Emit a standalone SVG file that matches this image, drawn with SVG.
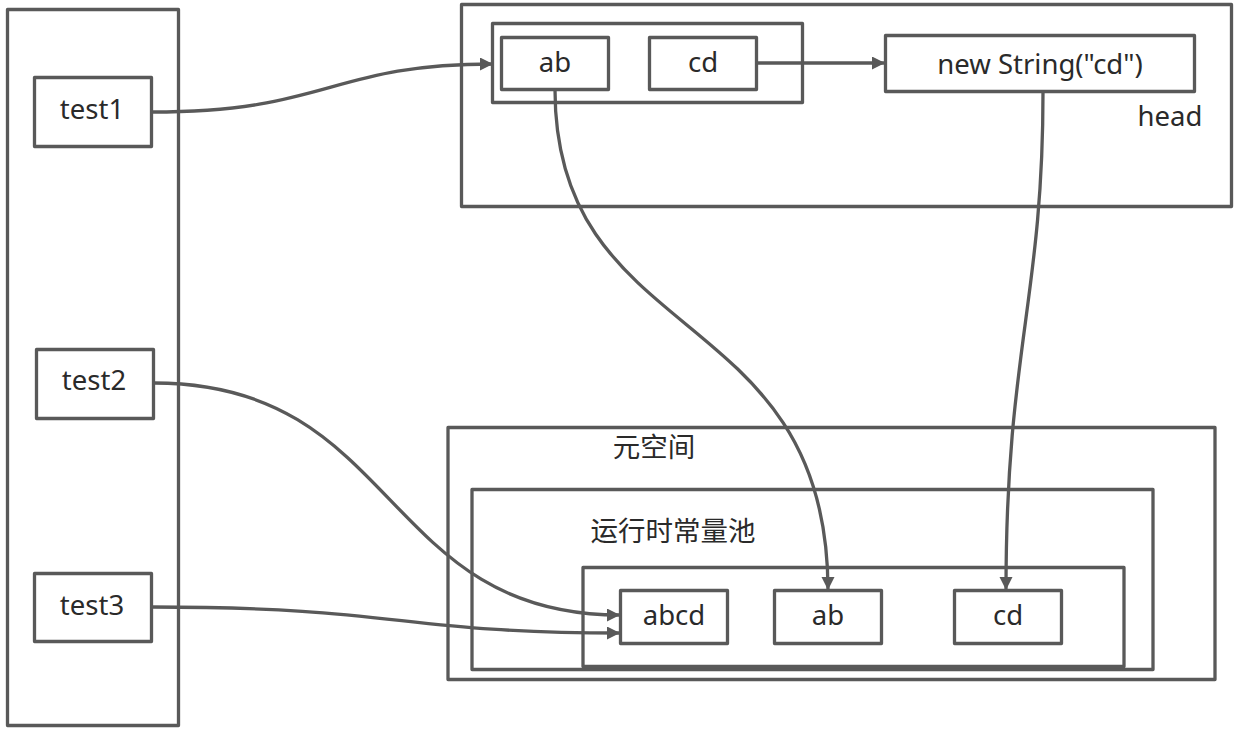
<svg xmlns="http://www.w3.org/2000/svg" width="1238" height="730" viewBox="0 0 1238 730">
<style>
.box{fill:none;stroke:#595959;stroke-width:3.3;stroke-linejoin:round}
.nb{fill:#fff;stroke:#595959;stroke-width:3.3;stroke-linejoin:round}
.t{font-family:"Noto Sans","Open Sans","Liberation Sans",sans-serif;font-size:27.5px;fill:#2a2a2a;text-anchor:middle;dominant-baseline:central}
.c{font-family:"Noto Sans CJK SC","Noto Sans",sans-serif;font-size:27.5px;fill:#2a2a2a;text-anchor:middle;dominant-baseline:central}
.e{fill:none;stroke:#595959;stroke-width:3.3}
</style>
<defs>
<marker id="arr" markerUnits="userSpaceOnUse" markerWidth="14" markerHeight="14" refX="13" refY="6.5" orient="auto">
<path d="M0,0 L13,6.5 L0,13 z" fill="#595959"/>
</marker>
</defs>
<rect width="1238" height="730" fill="#fff"/>
<g id="stack"><rect class="box" x="7.5" y="9.5" width="171" height="716"/></g>
<g id="heap"><rect class="box" x="461.5" y="4.5" width="770" height="202"/><text class="t" x="1170" y="115">head</text></g>
<g id="heap-group"><rect class="box" x="492.5" y="23.5" width="310" height="79"/></g>
<g id="metaspace"><rect class="box" x="448" y="427.5" width="767" height="252"/><text class="c" x="654" y="445">元空间</text></g>
<g id="pool"><rect class="box" x="472" y="489.5" width="681" height="180"/><text class="c" x="673" y="529">运行时常量池</text></g>
<g id="pool-inner"><rect class="box" x="583" y="567.5" width="541" height="99"/></g>
<g id="test1"><rect class="nb" x="34.5" y="77.5" width="117" height="69"/><text class="t" x="92" y="108">test1</text></g>
<g id="test2"><rect class="nb" x="36.5" y="349.5" width="117" height="69"/><text class="t" x="94" y="379">test2</text></g>
<g id="test3"><rect class="nb" x="34.5" y="573.5" width="117" height="68"/><text class="t" x="92" y="604">test3</text></g>
<g id="heap-ab"><rect class="nb" x="501.5" y="37.5" width="107" height="52"/><text class="t" x="555" y="61">ab</text></g>
<g id="heap-cd"><rect class="nb" x="649.5" y="37.5" width="107" height="52"/><text class="t" x="703" y="61">cd</text></g>
<g id="newstring"><rect class="nb" x="885.5" y="35.5" width="309" height="56"/><text class="t" x="1040" y="63">new String("cd")</text></g>
<g id="pool-abcd"><rect class="nb" x="620.5" y="590.5" width="107" height="53"/><text class="t" x="674" y="614">abcd</text></g>
<g id="pool-ab"><rect class="nb" x="774.5" y="590.5" width="107" height="53"/><text class="t" x="828" y="614">ab</text></g>
<g id="pool-cd"><rect class="nb" x="954.5" y="590.5" width="107" height="53"/><text class="t" x="1008" y="614">cd</text></g>
<g id="connectors">
<path class="e" marker-end="url(#arr)" d="M152,112 C330,112 330,64 493,64"/>
<path class="e" marker-end="url(#arr)" d="M757,63 L885,63"/>
<path class="e" marker-end="url(#arr)" d="M555,90 C555,350 828,300 828,590"/>
<path class="e" marker-end="url(#arr)" d="M1043,92 C1043,300 1006,350 1006,590"/>
<path class="e" marker-end="url(#arr)" d="M154,383 C400,383 380,615 620,615"/>
<path class="e" marker-end="url(#arr)" d="M152,607 C400,607 400,633 620,633"/>
</g>
</svg>
